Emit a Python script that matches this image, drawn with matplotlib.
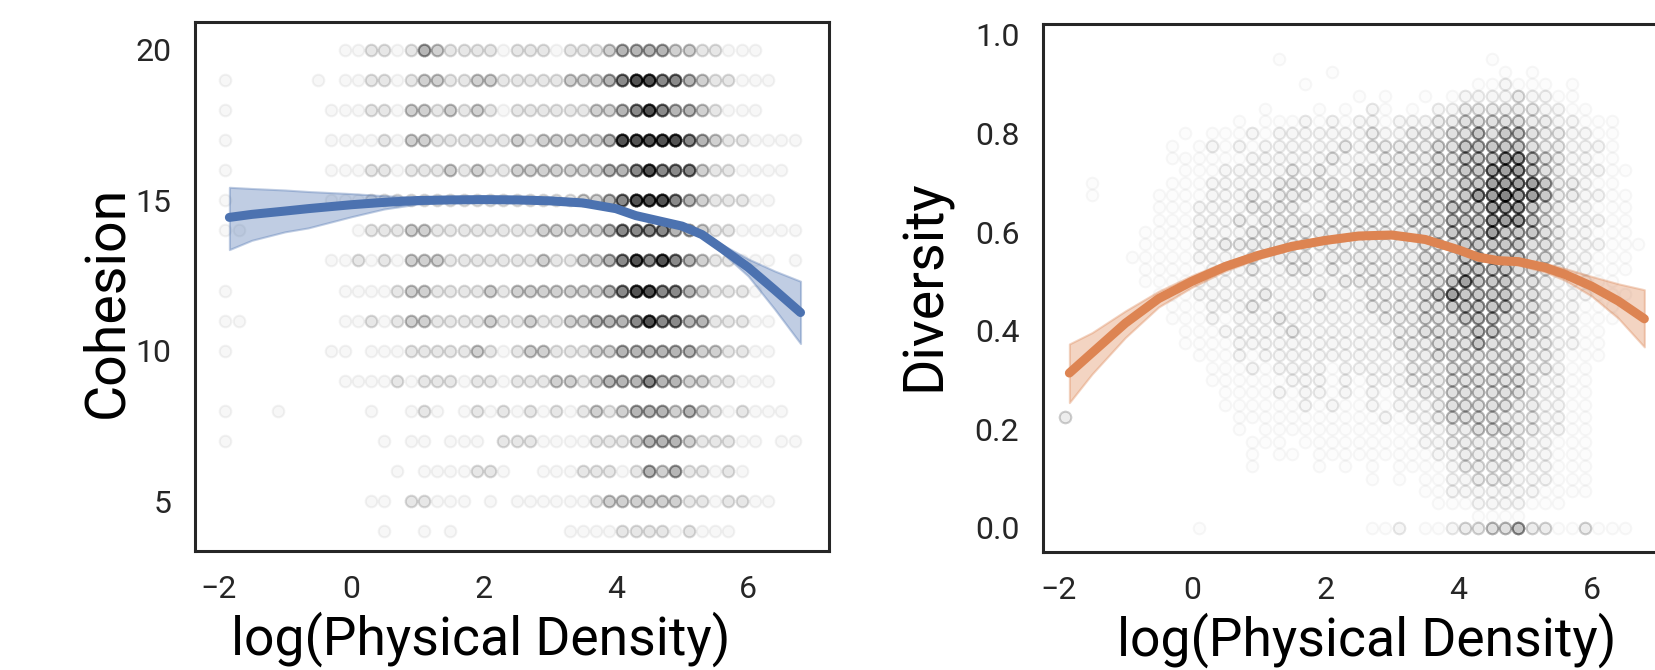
import numpy as np
import matplotlib.pyplot as plt

plt.rcParams['font.family'] = ['Roboto', 'DejaVu Sans']

# x bin centres (log physical density) used by both scatter grids
density_bins = [-1.9, -1.7, -1.5, -1.3, -1.1, -0.9, -0.7, -0.5, -0.3, -0.1,
                0.1, 0.3, 0.5, 0.7, 0.9, 1.1, 1.3, 1.5, 1.7, 1.9,
                2.1, 2.3, 2.5, 2.7, 2.9, 3.1, 3.3, 3.5, 3.7, 3.9,
                4.1, 4.3, 4.5, 4.7, 4.9, 5.1, 5.3, 5.5, 5.7, 5.9,
                6.1, 6.3, 6.5, 6.7]

# how many observations a density level (digit) stands for
level_counts = [0, 1, 3, 6, 10, 18, 32, 45]

# cohesion scores (rows) and density level of each x bin
cohesion_scores = [20, 19, 18, 17, 16, 15, 14, 13, 12, 11, 10, 9, 8, 7, 6, 5, 4]
cohesion_levels = [
    "0000000001" "1221243222" "2122212223" "4444332211" "1000",
    "1000000101" "1221233223" "3222223334" "5665543221" "1100",
    "1000000011" "1221332323" "2122222233" "4565443211" "1000",
    "1000000011" "1121332222" "2232333334" "6666654322" "1111",
    "1000000011" "1221222323" "2233333334" "4565553221" "1110",
    "1000000011" "1222222222" "2222222334" "5666543222" "1100",
    "1100000000" "1222332222" "2222333334" "5555443221" "1111",
    "0000000011" "2121333222" "2222322334" "5656543221" "1101",
    "1000000001" "1112332222" "3233333334" "5665543222" "1000",
    "1100000001" "1212332222" "3223223344" "4565544222" "1100",
    "1000000011" "0111222223" "2123322233" "4444443322" "1100",
    "0000000001" "1112122212" "2122233234" "4454433221" "1100",
    "1000100000" "0100121012" "1212121232" "3444343212" "1110",
    "1000000000" "0010110111" "0222111122" "2344432221" "1011",
    "0000000000" "0001011112" "2100111222" "1243422121" "0000",
    "0000000000" "0110221110" "1011111123" "3333322122" "1100",
    "0000000000" "0010010100" "0000001111" "2222121110" "0000",
]

# diversity rows (top to bottom) and density level of each x bin
diversity_values = [0.975, 0.95, 0.925, 0.9, 0.875, 0.85, 0.825, 0.8, 0.775, 0.75,
                    0.725, 0.7, 0.675, 0.65, 0.625, 0.6, 0.575, 0.55, 0.525, 0.5,
                    0.475, 0.45, 0.425, 0.4, 0.375, 0.35, 0.325, 0.3, 0.275, 0.25,
                    0.225, 0.2, 0.175, 0.15, 0.125, 0.1, 0.075, 0.05, 0.025, 0.0]
diversity_levels = [
    "0000000000" "0000000000" "0000000000" "0000000000" "0000",
    "0000000000" "0000001000" "0000000000" "0010000000" "0000",
    "0000000000" "0000000000" "1000000000" "0001010000" "0000",
    "0000000000" "0000000010" "0000000000" "0112111010" "0000",
    "0000000000" "0000000000" "0010100101" "2222322110" "0000",
    "0000000000" "0000010001" "0102101022" "3333332211" "0000",
    "0000000000" "0001011121" "2122122233" "4444433221" "1100",
    "0000000001" "0111212222" "2223223334" "4545543322" "1100",
    "0000000010" "1212122222" "2323333344" "5555543322" "2100",
    "0000000011" "1111222222" "3222333344" "5556654322" "1100",
    "0000000001" "1122222323" "2233333344" "5566654322" "2110",
    "0010000011" "1222223333" "3233333444" "5566665332" "1100",
    "0010000111" "1222323332" "3333333444" "5667665332" "2110",
    "0000000111" "2222333322" "3333333445" "5566654322" "1110",
    "0000000111" "2223233333" "3333334445" "5566654322" "2110",
    "0000001111" "2222333333" "3333333445" "5565554322" "1110",
    "0000001111" "2233333333" "3333333444" "5555544322" "2111",
    "0000011111" "2222323332" "3333333444" "5555544322" "1110",
    "0000001111" "1222322332" "3233333444" "5555443322" "1110",
    "0000001111" "2222222222" "2333333445" "6555443222" "1100",
    "0000000111" "2222232223" "2223333456" "5555443222" "1110",
    "0000000011" "1222322222" "2223333445" "5555443221" "1100",
    "0000000011" "1212223222" "2222333444" "5554443221" "1100",
    "0000000001" "1122222322" "2222233444" "4554443221" "1000",
    "0000000001" "1112222222" "2222233344" "4544433221" "1000",
    "0000000000" "1112122222" "2222223344" "4444433211" "1000",
    "0000000000" "0111212222" "1222223334" "4444433211" "0000",
    "0000000000" "0111111222" "1212223334" "4444432211" "0000",
    "0000000000" "0011112122" "1212122334" "4444432211" "0000",
    "0000000000" "0011111121" "2112122234" "4444332211" "0000",
    "3000000000" "0001111111" "1111212234" "4443332211" "0000",
    "0000000000" "0001011111" "1111111223" "3444332211" "0000",
    "0000000000" "0000111011" "1111111223" "3333322111" "0000",
    "0000000000" "0000101101" "1111111122" "3333322111" "0000",
    "0000000000" "0000100001" "0101011112" "3333222111" "0000",
    "0000000000" "0000000000" "0001010112" "2333222111" "0000",
    "0000000000" "0000000000" "0000000112" "2222221111" "0000",
    "0000000000" "0000000000" "0000000011" "1222211100" "0000",
    "0000000000" "0000000000" "0000000000" "0111100000" "0000",
    "0000000000" "1000000000" "0001120112" "3344533113" "1110",
]

# fitted curves with confidence band
cohesion_fit_x = [-1.84, -1.5, -1.0, -0.65, 0.0, 0.5, 1.0, 1.5, 2.0, 2.5, 3.0, 3.5,
                  4.0, 4.3, 4.6, 5.0, 5.3, 5.6, 6.0, 6.4, 6.79]
cohesion_fit = [14.43, 14.53, 14.64, 14.72, 14.85, 14.93, 14.99, 15.01, 15.02, 15.01, 14.98, 14.91,
                14.72, 14.49, 14.34, 14.14, 13.86, 13.40, 12.77, 12.02, 11.27]
cohesion_lo = [13.36, 13.67, 13.95, 14.08, 14.45, 14.71, 14.87, 14.94, 14.96, 14.95, 14.92, 14.85,
               14.65, 14.42, 14.27, 14.07, 13.77, 13.27, 12.48, 11.38, 10.24]
cohesion_hi = [15.43, 15.39, 15.34, 15.29, 15.22, 15.15, 15.10, 15.08, 15.08, 15.07, 15.04, 14.97,
               14.78, 14.56, 14.41, 14.21, 13.95, 13.53, 13.05, 12.65, 12.31]

diversity_fit_x = [-1.84, -1.5, -1.0, -0.5, 0.0, 0.5, 1.0, 1.5, 2.0, 2.5, 3.0, 3.5,
                   4.0, 4.3, 4.6, 4.9, 5.3, 5.6, 6.0, 6.4, 6.79]
diversity_fit = [0.314, 0.355, 0.415, 0.465, 0.500, 0.530, 0.553, 0.571, 0.583, 0.592, 0.594, 0.585,
                 0.564, 0.549, 0.542, 0.540, 0.528, 0.514, 0.490, 0.460, 0.424]
diversity_lo = [0.254, 0.312, 0.386, 0.448, 0.488, 0.521, 0.546, 0.565, 0.577, 0.586, 0.588, 0.579,
                0.558, 0.543, 0.536, 0.533, 0.519, 0.502, 0.470, 0.425, 0.367]
diversity_hi = [0.373, 0.396, 0.440, 0.480, 0.512, 0.539, 0.560, 0.577, 0.589, 0.598, 0.600, 0.591,
                0.570, 0.555, 0.548, 0.547, 0.537, 0.526, 0.510, 0.495, 0.483]


# Turn the level strings into a list of (x, y) observations
def expand_levels(levels, row_values):
    xs, ys = [], []
    for y, row in zip(row_values, levels):
        for x, ch in zip(density_bins, row):
            n = level_counts[int(ch)]
            xs += [x] * n
            ys += [y] * n
    return xs, ys


def style_axis(ax, label_x):
    for spine in ax.spines.values():
        spine.set_color('#262626')
        spine.set_linewidth(2.2)
    ax.tick_params(length=0, pad=17, labelsize=23, labelcolor='#262626')
    ax.set_xticks([-2, 0, 2, 4, 6])
    ax.set_xlabel("log(Physical Density)", fontsize=38.5, color='black')
    ax.xaxis.set_label_coords(label_x, -0.115)


def draw_panel(ax, levels, rows, face_a, edge_a, fx, fy, lo, hi, color):
    xs, ys = expand_levels(levels, rows)
    ax.scatter(xs, ys, s=70, facecolors=(0, 0, 0, face_a), edgecolors=(0, 0, 0, edge_a),
               linewidths=1.5, zorder=1)
    ax.fill_between(fx, lo, hi, color=color, alpha=0.35, lw=1.5, zorder=2)
    ax.plot(fx, fy, color=color, lw=6.5, solid_capstyle='round', zorder=3)


fig = plt.figure(figsize=(16.55, 6.7), dpi=100)

ax1 = fig.add_axes([0.1178, 0.1776, 0.3831, 0.7896])
draw_panel(ax1, cohesion_levels, cohesion_scores, 0.03, 0.05,
           cohesion_fit_x, cohesion_fit, cohesion_lo, cohesion_hi, '#4C72B0')
ax1.set_xlim(-2.36, 7.22)
ax1.set_ylim(3.35, 20.92)
ax1.set_yticks([5, 10, 15, 20])
style_axis(ax1, 0.451)
ax1.set_ylabel("Cohesion", fontsize=40)
ax1.yaxis.set_label_coords(-0.097, 0.47)

ax2 = fig.add_axes([0.6302, 0.1761, 0.3831, 0.7881])
draw_panel(ax2, diversity_levels, diversity_values, 0.012, 0.03,
           diversity_fit_x, diversity_fit, diversity_lo, diversity_hi, '#DD8452')
ax2.set_xlim(-2.236, 7.28)
ax2.set_ylim(-0.049, 1.022)
ax2.set_yticks([0.0, 0.2, 0.4, 0.6, 0.8, 1.0])
ax2.set_yticklabels(["0.0", "0.2", "0.4", "0.6", "0.8", "1.0"])
style_axis(ax2, 0.511)
ax2.set_ylabel("Diversity", fontsize=40)
ax2.yaxis.set_label_coords(-0.144, 0.505)

fig.savefig("out.png", dpi=100, facecolor='white')
